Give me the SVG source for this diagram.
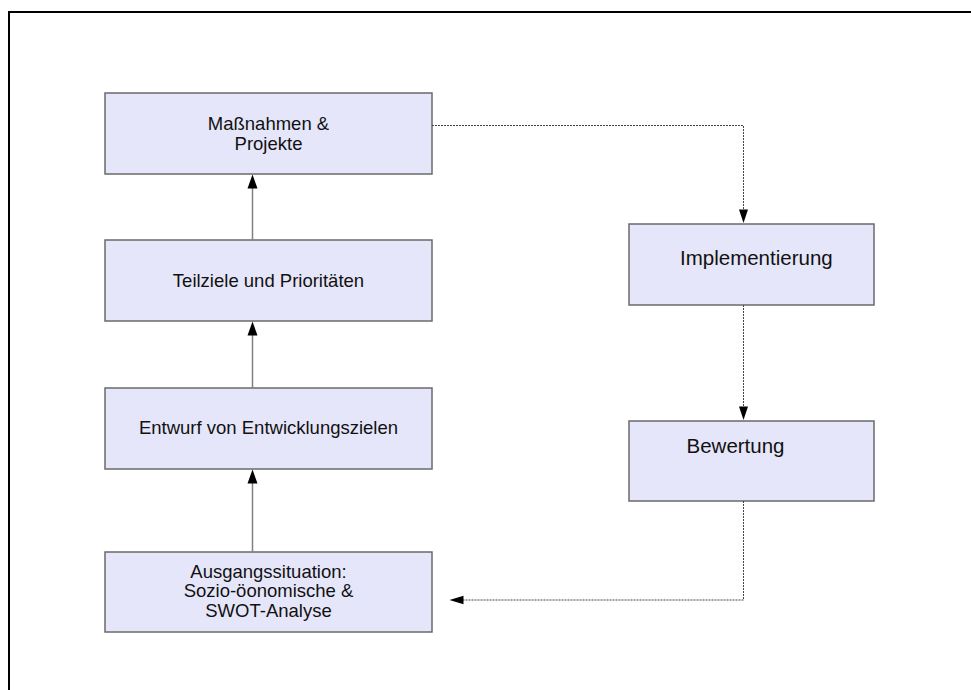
<svg xmlns="http://www.w3.org/2000/svg" width="971" height="690" viewBox="0 0 971 690">
<style>
.box{fill:#e6e6fa;stroke:#6a6a6a;stroke-width:1.5}
.t{font-family:"Liberation Sans",Arial,sans-serif;font-size:18.5px;fill:#111}
.tl{font-family:"Liberation Sans",Arial,sans-serif;font-size:20.5px;fill:#111}
.solid{stroke:#808080;stroke-width:1.5;fill:none}
.dot{stroke:#444;stroke-width:1;stroke-dasharray:2,1;fill:none}
</style>
<rect width="971" height="690" fill="#fff"/>
<rect x="9" y="12" width="1000" height="1000" fill="none" stroke="#000" stroke-width="2"/>
<g id="n1"><rect class="box" x="105" y="93" width="327" height="81"/>
<text class="t" text-anchor="middle" x="268.5" y="130">Maßnahmen &amp;</text>
<text class="t" text-anchor="middle" x="268.5" y="149.5">Projekte</text></g>
<g id="n2"><rect class="box" x="105" y="240" width="327" height="81"/>
<text class="t" text-anchor="middle" x="268.5" y="287">Teilziele und Prioritäten</text></g>
<g id="n3"><rect class="box" x="105" y="388" width="327" height="81"/>
<text class="t" text-anchor="middle" x="268.5" y="434">Entwurf von Entwicklungszielen</text></g>
<g id="n4"><rect class="box" x="105" y="552" width="327" height="80"/>
<text class="t" text-anchor="middle" x="268.5" y="577.5">Ausgangssituation:</text>
<text class="t" text-anchor="middle" x="268.5" y="596.5">Sozio-öonomische &amp;</text>
<text class="t" text-anchor="middle" x="268.5" y="616.5">SWOT-Analyse</text></g>
<g id="n5"><rect class="box" x="629" y="224" width="245" height="81"/>
<text class="tl" x="680" y="265">Implementierung</text></g>
<g id="n6"><rect class="box" x="629" y="421" width="245" height="80"/>
<text class="tl" x="686.5" y="452.5">Bewertung</text></g>
<g id="connectors">
<line class="solid" x1="252.5" y1="552" x2="252.5" y2="483"/>
<polygon points="252.5,469.5 247.5,483.5 257.5,483.5" fill="#000"/>
<line class="solid" x1="252.5" y1="388" x2="252.5" y2="335"/>
<polygon points="252.5,321.5 247.5,335.5 257.5,335.5" fill="#000"/>
<line class="solid" x1="252.5" y1="240" x2="252.5" y2="188"/>
<polygon points="252.5,174.5 247.5,188.5 257.5,188.5" fill="#000"/>
<polyline class="dot" points="432,125.5 743.5,125.5 743.5,210"/>
<polygon points="743.5,223 739,209.5 748,209.5" fill="#000"/>
<line class="dot" x1="743.5" y1="305" x2="743.5" y2="407"/>
<polygon points="743.5,420 739,406.5 748,406.5" fill="#000"/>
<polyline class="dot" points="743.5,501 743.5,600 463,600"/>
<polygon points="449.5,600 463.5,595.8 463.5,604.2" fill="#000"/>
</g>
</svg>
